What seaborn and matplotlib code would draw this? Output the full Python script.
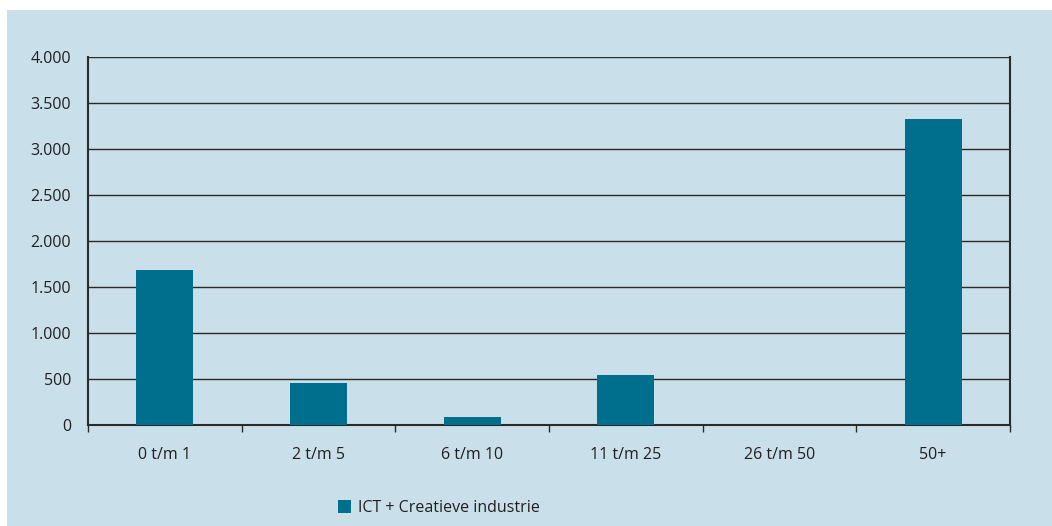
import matplotlib
matplotlib.use("Agg")
import matplotlib.pyplot as plt
import matplotlib.ticker as mticker
from matplotlib.patches import Rectangle, Patch
import seaborn as sns
import pandas as pd

categories = ["0 t/m 1", "2 t/m 5", "6 t/m 10", "11 t/m 25", "26 t/m 50", "50+"]
values = [1685, 455, 85, 545, 0, 3325]
series_name = "ICT + Creatieve industrie"
y_ticks = [0, 500, 1000, 1500, 2000, 2500, 3000, 3500, 4000]

bar_color = "#006f8e"
panel_color = "#c9e0ea"
text_color = "#231f20"

sns.set_theme(style="white")
plt.rcParams["font.family"] = ["Open Sans", "DejaVu Sans"]

df = pd.DataFrame({"cat": categories, "val": values, "series": series_name})

fig = plt.figure(figsize=(10.52, 5.26), dpi=100)
fig.patch.set_facecolor("white")
fig.patches.append(Rectangle((7 / 1052, 0), 1 - 7 / 1052, 1 - 10 / 526,
                             transform=fig.transFigure, facecolor=panel_color,
                             edgecolor="none", zorder=-10))

ax = fig.add_axes([88 / 1052, 1 - 425 / 526, (1010 - 88) / 1052, (425 - 57) / 526])
ax.set_zorder(5)
ax.set_facecolor(panel_color)

sns.barplot(data=df, x="cat", y="val", hue="series", palette=[bar_color],
            width=0.37, ax=ax, legend=False, zorder=3, saturation=1, linewidth=0)

ax.set_ylim(0, 4000)
ax.set_xlim(-0.5, len(categories) - 0.5)
ax.set_yticks(y_ticks)
ax.yaxis.set_major_formatter(mticker.FuncFormatter(lambda v, p: f"{int(v):,}".replace(",", ".")))
ax.grid(axis="y", color="#2a2a2a", linewidth=1.0, zorder=1)
ax.set_axisbelow(True)

ax.set_xlabel("")
ax.set_ylabel("")
ax.tick_params(axis="x", which="major", length=0, pad=16, labelsize=11.5, labelcolor=text_color)
ax.set_xticks([i - 0.5 for i in range(len(categories) + 1)], minor=True)
ax.tick_params(axis="x", which="minor", length=5, width=1, color="#2a2a2a", direction="out", bottom=True)
ax.tick_params(axis="y", length=0, pad=12, labelsize=11.5, labelcolor=text_color)

for s in ["left", "right", "bottom"]:
    ax.spines[s].set_visible(True)
    ax.spines[s].set_color("#2a2a2a")
    ax.spines[s].set_linewidth(1.5)
ax.spines["top"].set_visible(False)

handles = [Patch(facecolor=bar_color, edgecolor="none", label=series_name)]
leg = fig.legend(handles=handles, loc="center left", bbox_to_anchor=(324 / 1052, 1 - 508 / 526),
                 frameon=False, fontsize=11.5, handlelength=0.8, handleheight=0.8,
                 handletextpad=0.4, labelcolor=text_color)

fig.savefig("out.png", dpi=100)
